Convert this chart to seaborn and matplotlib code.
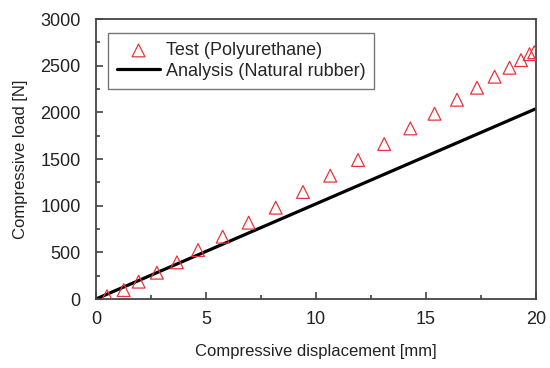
import numpy as np
import pandas as pd
import matplotlib
matplotlib.use("Agg")
import matplotlib.pyplot as plt
from matplotlib.ticker import MultipleLocator
import seaborn as sns

# valeurs
test_disp = [0.5, 1.26, 1.94, 2.77, 3.68, 4.64, 5.76, 6.94, 8.17, 9.41, 10.65,
             11.91, 13.1, 14.29, 15.39, 16.41, 17.32, 18.12, 18.8, 19.32, 19.71, 19.92]
test_load = [30, 96, 186, 282, 393, 525, 668, 818, 979, 1147, 1322,
             1490, 1661, 1829, 1986, 2136, 2265, 2383, 2479, 2561, 2625, 2645]
ana_disp = [0, 20]
ana_load = [0, 2040]

df_test = pd.DataFrame({"disp": test_disp, "load": test_load})
df_ana = pd.DataFrame({"disp": ana_disp, "load": ana_load})

sns.set_style("ticks")
plt.rcParams["font.family"] = ["Liberation Sans", "DejaVu Sans"]

fig = plt.figure(figsize=(5.5, 3.68), dpi=100)
ax = fig.add_axes([0.1745, 0.1875, 0.8, 0.7605])

sns.scatterplot(data=df_test, x="disp", y="load", ax=ax, marker="^", s=85,
                facecolors="none", edgecolor="#e8343c", linewidth=0.9,
                label="Test (Polyurethane)", zorder=3)
sns.lineplot(data=df_ana, x="disp", y="load", ax=ax, color="black", linewidth=2.3,
             label="Analysis (Natural rubber)")

ax.set_xlim(0, 20)
ax.set_ylim(0, 3000)
ax.xaxis.set_major_locator(MultipleLocator(5))
ax.xaxis.set_minor_locator(MultipleLocator(2.5))
ax.yaxis.set_major_locator(MultipleLocator(500))
ax.yaxis.set_minor_locator(MultipleLocator(250))
ax.tick_params(which="both", direction="in", colors="#333333", labelcolor="#222222",
               labelsize=13, width=1.1)
ax.tick_params(which="major", length=5)
ax.tick_params(which="minor", length=3)
ax.tick_params(axis="x", which="major", pad=9)
ax.tick_params(axis="y", which="major", pad=11)
for sp in ax.spines.values():
    sp.set_visible(True)
    sp.set_color("#444444")
    sp.set_linewidth(1.3)

ax.set_xlabel("Compressive displacement [mm]", fontsize=12, color="#222222", labelpad=11)
ax.set_ylabel("Compressive load [N]", fontsize=12, color="#222222", labelpad=9)

leg = ax.legend(loc="upper left", bbox_to_anchor=(0.027, 0.95), fontsize=13,
                frameon=True, fancybox=False, edgecolor="#555555",
                handlelength=2.4, handletextpad=0.3, borderpad=0.5,
                labelspacing=0.2, borderaxespad=0)
leg.get_frame().set_linewidth(1.0)

fig.savefig("out.png", dpi=100)
